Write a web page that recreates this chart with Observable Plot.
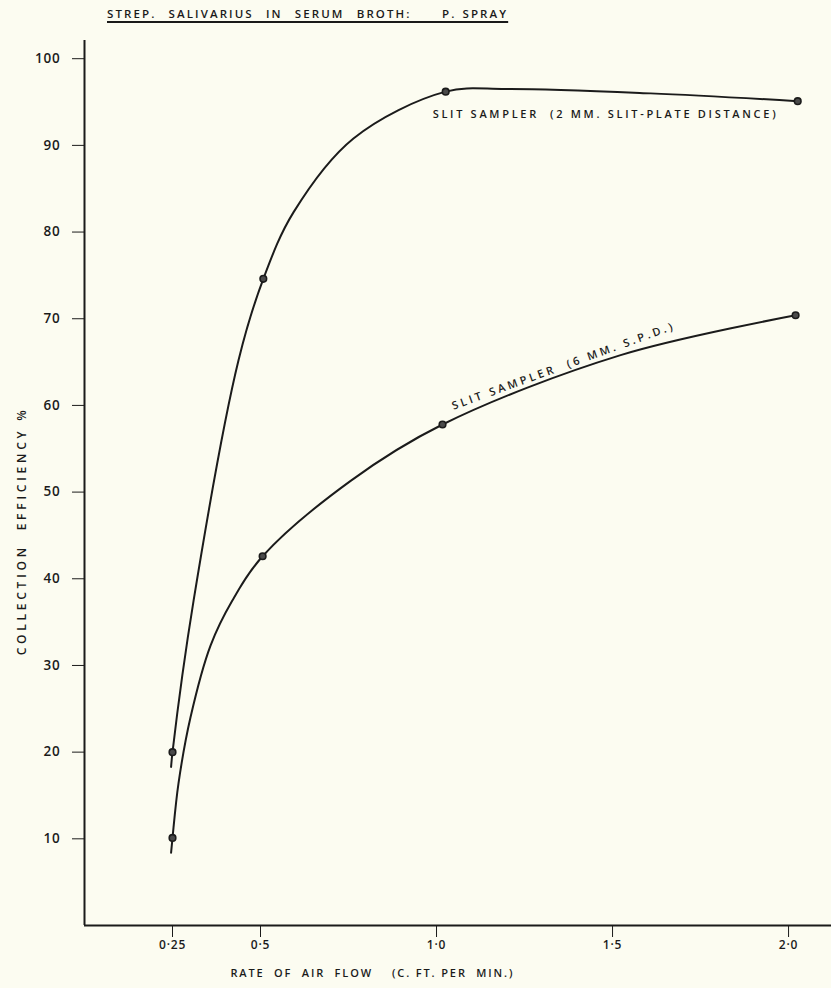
<!DOCTYPE html>
<html>
<head>
<meta charset="utf-8">
<script src="https://cdn.jsdelivr.net/npm/d3@7"></script>
<script src="https://cdn.jsdelivr.net/npm/@observablehq/plot@0.6"></script>
<style>
  html, body { margin: 0; padding: 0; background: #fcfcf1; }
  #wrap { position: relative; width: 831px; height: 988px; overflow: hidden; }
  #title {
    position: absolute; left: 107px; top: 6px;
    font-family: "Open Sans", sans-serif; font-weight: 600; font-size: 11.5px; letter-spacing: 2.1px; word-spacing: 1px;
    color: #1a1a1a; text-decoration: underline; text-decoration-thickness: 1.5px; text-underline-offset: 3px; white-space: pre;
  }
  svg { display: block; }
</style>
</head>
<body>
<div id="wrap">
  <div id="title"></div>
</div>
<script>
// ---- Data ----
const titleText = "STREP.  SALIVARIUS  IN  SERUM  BROTH:     P. SPRAY";
const xLabel = "RATE  OF  AIR  FLOW    (C. FT. PER  MIN.)";
const yLabel = "COLLECTION  EFFICIENCY %";

const xTicks = [0.25, 0.5, 1.0, 1.5, 2.0];
const xTickLabels = ["0·25", "0·5", "1·0", "1·5", "2·0"];
const yTicks = [10, 20, 30, 40, 50, 60, 70, 80, 90, 100];
const yTickLabels = ["10", "20", "30", "40", "50", "60", "70", "80", "90", "100"];

// measured points (marked by dots)
const flow2mm = [0.25, 0.508, 1.026, 2.026];
const eff2mm  = [20.0, 74.6, 96.2, 95.1];
const flow6mm = [0.25, 0.506, 1.017, 2.02];
const eff6mm  = [10.1, 42.6, 57.8, 70.4];

// hand-drawn smooth curves
const curve2mmX = [0.246, 0.25, 0.31, 0.4375, 0.508, 0.594, 0.764, 1.026, 1.199, 1.608, 2.026];
const curve2mmY = [18.3, 20.0, 37.5, 65.2, 74.6, 82.3, 90.8, 96.2, 96.5, 96.0, 95.1];
const curve6mmX = [0.246, 0.25, 0.267, 0.301, 0.358, 0.420, 0.506, 0.756, 1.017, 1.523, 2.02];
const curve6mmY = [8.4, 10.1, 16.4, 24.0, 32.3, 37.5, 42.6, 51.3, 57.8, 65.8, 70.4];

const seriesLabels = ["SLIT SAMPLER  (2 MM. SLIT-PLATE DISTANCE)", "SLIT SAMPLER  (6 MM. S.P.D.)"];
const labelX = [0.989, 1.357];
const labelY = [93.6, 64.5];

// ---- Build tables ----
const pts = [
  ...flow2mm.map((x, i) => ({x, y: eff2mm[i], s: "2mm"})),
  ...flow6mm.map((x, i) => ({x, y: eff6mm[i], s: "6mm"}))
];
const curves = [
  ...curve2mmX.map((x, i) => ({x, y: curve2mmY[i], s: "2mm"})),
  ...curve6mmX.map((x, i) => ({x, y: curve6mmY[i], s: "6mm"}))
];

const ink = "#1b1b1b";
const font = "'Open Sans', sans-serif";

const chart = Plot.plot({
  width: 831,
  height: 988,
  marginLeft: 84,
  marginRight: 0,
  marginTop: 40,
  marginBottom: 63,
  style: {background: "transparent", fontFamily: font, fontWeight: 600, color: ink, overflow: "visible"},
  x: {domain: [0, 2.122]},
  y: {domain: [0, 102.1]},
  marks: [
    Plot.ruleX([0], {y1: 0, y2: 102.1, stroke: ink, strokeWidth: 2}),
    Plot.ruleY([0], {x1: 0, x2: 2.122, stroke: ink, strokeWidth: 2}),
    Plot.axisY({
      ticks: yTicks, tickFormat: (d) => yTickLabels[yTicks.indexOf(d)],
      tickSize: 12, tickPadding: 12, tickWidth: 2, fontSize: 13.5, label: null, stroke: ink, fill: ink
    }),
    Plot.axisX({
      ticks: xTicks, tickFormat: (d) => xTickLabels[xTicks.indexOf(d)],
      tickSize: 12, tickPadding: 3, fontSize: 12, label: null, stroke: ink, fill: ink
    }),
    Plot.text([xLabel], {x: 0.815, y: -5.5, text: (d) => d, fontSize: 11, fill: ink}),
    Plot.text([yLabel], {x: -0.176, y: 45.3, text: (d) => d, fontSize: 12, rotate: -90, fill: ink}),
    Plot.line(curves, {x: "x", y: "y", z: "s", curve: "catmull-rom", stroke: ink, strokeWidth: 2}),
    Plot.dot(pts, {x: "x", y: "y", r: 3.3, fill: "#4a4a4a", stroke: ink, strokeWidth: 1.6}),
    Plot.text(seriesLabels, {
      x: (d, i) => labelX[i], y: (d, i) => labelY[i], text: (d) => d,
      textAnchor: "start", fontSize: 11, fill: ink
    })
  ]
});

document.getElementById("title").textContent = titleText;
document.getElementById("wrap").appendChild(chart);

// stretch the stencil-style lettering to the widths seen in the reference
const targetWidth = new Map([
  [seriesLabels[0], 343],
  [seriesLabels[1], 234],
  [xLabel, 282],
  [yLabel, 245]
]);
d3.select(chart).selectAll("text").each(function() {
  const t = this.textContent;
  const sel = d3.select(this);
  if (targetWidth.has(t)) {
    sel.attr("textLength", targetWidth.get(t)).attr("lengthAdjust", "spacing");
  } else {
    sel.style("letter-spacing", "0.8px");
  }
  if (t === seriesLabels[1]) {
    sel.attr("text-anchor", "middle").attr("transform", sel.attr("transform") + " rotate(-20)");
  }
});
</script>
</body>
</html>
